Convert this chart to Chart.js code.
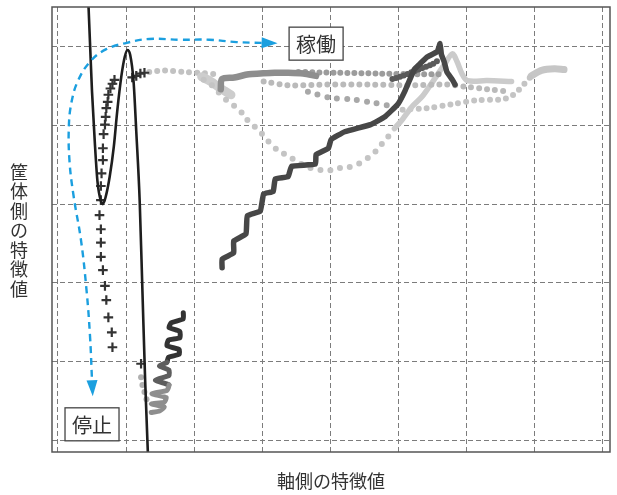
<!DOCTYPE html>
<html>
<head>
<meta charset="utf-8">
<script src="https://cdn.jsdelivr.net/npm/chart.js@4/dist/chart.umd.min.js"></script>
<style>
  html, body { margin: 0; padding: 0; background: #fff; }
  canvas { display: block; }
</style>
</head>
<body>
<canvas id="c" width="617" height="495"></canvas>
<script>
// Grid positions (no tick labels are printed)
const xGrid = [0, 1, 2, 3, 4, 5, 6, 7, 8];
const yGrid = [0, 1, 2, 3, 4, 5];
const xTitle = '軸側の特徴値';
const yTitle = '筐体側の特徴値';

// State labels and where they sit
const stateNames = ['稼働', '停止'];
const stateX = [3.79, 0.50];
const stateY = [5.04, 0.20];

// Dashed transition path (from the running end to the stopped end)
const transitionPath = [[2.99,5.05],[2.62,5.06],[2.22,5.09],[1.78,5.09],[1.34,5.10],[1.01,5.05],[0.71,4.97],[0.47,4.81],[0.29,4.56],[0.20,4.30],[0.16,3.99],[0.17,3.54],[0.23,3.10],[0.34,2.53],[0.42,1.90],[0.47,1.33],[0.50,0.76]];

// Decision boundary curve
const boundaryCurve = [[0.44,5.70],[0.47,5.06],[0.50,4.43],[0.54,3.80],[0.58,3.29],[0.63,3.04],[0.66,3.00],[0.70,3.09],[0.76,3.35],[0.82,3.73],[0.87,4.18],[0.93,4.62],[0.98,4.87],[1.02,4.96],[1.06,4.90],[1.11,4.56],[1.15,3.92],[1.20,3.04],[1.24,1.90],[1.28,0.76],[1.33,-0.38]];

// Start-up run (cross markers)
const startupRun = [[0.80,1.18],[0.79,1.37],[0.74,1.56],[0.71,1.78],[0.69,1.96],[0.66,2.16],[0.63,2.33],[0.63,2.51],[0.63,2.68],[0.61,2.86],[0.63,3.05],[0.63,3.23],[0.64,3.39],[0.66,3.56],[0.66,3.71],[0.67,3.89],[0.69,4.01],[0.70,4.11],[0.71,4.22],[0.73,4.30],[0.74,4.39],[0.77,4.47],[0.80,4.53],[0.83,4.58],[1.09,4.61],[1.15,4.63],[1.21,4.66],[1.27,4.67],[1.22,0.97]];

// Stopped run (squiggle near the bottom)
const stoppedRun = [[1.84,1.62],[1.84,1.54],[1.66,1.49],[1.63,1.43],[1.79,1.38],[1.79,1.30],[1.62,1.27],[1.60,1.20],[1.78,1.15],[1.78,1.09],[1.62,1.05],[1.60,0.99],[1.49,0.94],[1.63,0.89],[1.63,0.82],[1.43,0.76],[1.63,0.70],[1.60,0.63],[1.38,0.59],[1.59,0.54],[1.56,0.48],[1.37,0.46],[1.56,0.42],[1.49,0.37],[1.37,0.35]];
const stoppedDots = [[1.22,0.80],[1.24,0.70],[1.27,0.61],[1.30,0.52]];

// Ramp-up run (staircase)
const rampRun = [[2.41,2.19],[2.41,2.30],[2.58,2.38],[2.58,2.53],[2.76,2.62],[2.78,2.85],[2.97,2.91],[3.02,3.13],[3.16,3.16],[3.19,3.32],[3.38,3.35],[3.43,3.48],[3.78,3.51],[3.79,3.63],[3.97,3.71],[4.01,3.82],[4.21,3.92],[4.59,4.01],[4.80,4.11],[4.99,4.27],[5.09,4.43],[5.23,4.71],[5.31,4.78],[5.42,4.87],[5.57,4.94],[5.61,5.04],[5.63,4.90],[5.67,4.81],[5.71,4.68],[5.79,4.58],[5.83,4.52]];
const rampBranch = [[4.91,4.59],[5.06,4.63],[5.20,4.68],[5.35,4.73],[5.50,4.78],[5.60,4.84]];

// Steady running runs
const steadyBand = [[2.39,4.46],[2.41,4.59],[2.59,4.61],[2.80,4.65],[2.97,4.66],[3.18,4.67],[3.38,4.67],[3.60,4.66],[3.79,4.63]];
const steadyTop = [[3.53,4.68],[4.11,4.67],[4.69,4.66],[5.28,4.65],[5.64,4.65]];
const steadyMid = [[3.02,4.56],[3.38,4.51],[3.97,4.52],[4.55,4.52],[5.13,4.51],[5.71,4.52],[6.01,4.49],[6.30,4.46],[6.63,4.43]];
const steadyLow = [[3.67,4.43],[4.01,4.35],[4.33,4.33],[4.62,4.29],[4.88,4.25]];
const drift = [[5.06,4.20],[5.42,4.22],[5.79,4.27],[6.15,4.32],[6.49,4.33],[6.63,4.36],[6.73,4.42],[6.85,4.53],[6.95,4.63]];
const driftEnd = [[6.95,4.63],[7.10,4.70],[7.29,4.72],[7.43,4.71]];
const settleTop = [[1.34,4.68],[1.56,4.70],[1.85,4.68],[2.07,4.67],[2.33,4.65]];
const settleLoop = [[2.14,4.58],[2.29,4.49],[2.41,4.37],[2.54,4.28],[2.68,4.18],[2.80,4.05],[2.92,3.96],[3.03,3.86],[3.16,3.73],[3.34,3.63],[3.48,3.56],[3.64,3.48],[3.80,3.44],[3.98,3.43],[4.14,3.46],[4.33,3.48],[4.50,3.56],[4.64,3.65],[4.75,3.76],[4.85,3.86],[4.94,3.96]];
const settleRise = [[4.94,3.96],[5.06,4.08],[5.20,4.24],[5.35,4.37],[5.52,4.58],[5.67,4.77],[5.79,4.91],[5.86,4.81],[5.93,4.66],[6.01,4.57],[6.30,4.57],[6.66,4.56]];
const settleWedge = [[2.11,4.62],[2.24,4.56],[2.39,4.47],[2.54,4.39]];

const pts = a => a.map(([x, y]) => ({ x, y }));

function dotted(data, color, width, gap, tension) {
  return {
    data: pts(data), borderColor: color, borderWidth: width,
    borderDash: [0, gap], borderCapStyle: 'round', pointRadius: 0,
    tension: tension, fill: false
  };
}
function solid(data, color, width, tension) {
  return {
    data: pts(data), borderColor: color, borderWidth: width,
    borderCapStyle: 'round', borderJoinStyle: 'round', pointRadius: 0,
    tension: tension, fill: false
  };
}

const datasets = [
  Object.assign(solid(transitionPath, '#1b9fdf', 2.4, 0.4), { borderDash: [7, 5], borderCapStyle: 'butt' }),
  Object.assign(solid(boundaryCurve, '#1e1e1e', 2.6, 0), { cubicInterpolationMode: 'monotone' }),
  { data: pts(startupRun), showLine: false, pointStyle: 'cross', pointRadius: 4.8,
    pointBorderWidth: 2.2, pointBorderColor: '#333', pointBackgroundColor: '#333' },
  Object.assign(solid(stoppedRun, '#333', 5, 0.12), {
    segment: { borderColor: c => { const y = c.p0.parsed.y; return y > 1.0 ? '#333' : (y > 0.72 ? '#5e5e5e' : '#8e8e8e'); } }
  }),
  { data: pts(stoppedDots), showLine: false, pointRadius: 3, pointBorderWidth: 0, pointBackgroundColor: '#b0b0b0' },
  Object.assign(solid(rampRun, '#474747', 5.5, 0.1), { borderJoinStyle: 'round' }),
  dotted(rampBranch, '#5a5a5a', 6, 4, 0.2),
  solid(steadyBand, '#8e8e8e', 6.5, 0.3),
  dotted(steadyTop, '#9c9c9c', 6, 7, 0.3),
  dotted(steadyLow, '#a8a8a8', 6, 10, 0.3),
  dotted(steadyMid, '#bababa', 6, 8, 0.3),
  dotted(settleLoop, '#c4c4c4', 6, 10, 0.4),
  solid(settleRise, '#cbcbcb', 5.5, 0.3),
  solid(settleWedge, '#cdcdcd', 9, 0.3),
  dotted(drift, '#c4c4c4', 6, 8, 0.3),
  solid(driftEnd, '#c6c6c6', 7, 0.3),
  dotted(settleTop, '#c2c2c2', 6, 8, 0.3)
];

// Titles, frame, arrowheads and state boxes
const decor = {
  id: 'decor',
  afterDatasetsDraw(chart) {
    const { ctx, chartArea: a, scales: { x, y } } = chart;
    ctx.save();
    // frame
    ctx.strokeStyle = '#555';
    ctx.lineWidth = 1.5;
    ctx.setLineDash([]);
    ctx.strokeRect(a.left, a.top, a.right - a.left, a.bottom - a.top);

    // arrowheads on both ends of the dashed path
    const pm = chart.getDatasetMeta(0).data;
    const head = (p, q) => {
      const dx = p.x - q.x, dy = p.y - q.y, L = Math.hypot(dx, dy) || 1;
      const ux = dx / L, uy = dy / L, len = 16, hw = 5.5;
      ctx.beginPath();
      ctx.moveTo(p.x + ux * len, p.y + uy * len);
      ctx.lineTo(p.x - uy * hw, p.y + ux * hw);
      ctx.lineTo(p.x + uy * hw, p.y - ux * hw);
      ctx.closePath();
      ctx.fillStyle = '#1b9fdf';
      ctx.fill();
    };
    head(pm[0], pm[1]);
    head(pm[pm.length - 1], pm[pm.length - 2]);

    // state boxes
    ctx.font = '20px "Noto Sans CJK JP", "Noto Sans CJK SC", sans-serif';
    ctx.textAlign = 'center';
    ctx.textBaseline = 'middle';
    stateNames.forEach((t, i) => {
      const cx = x.getPixelForValue(stateX[i]);
      const cy = y.getPixelForValue(stateY[i]);
      const w = ctx.measureText(t).width + 14, h = 33;
      ctx.fillStyle = '#fff';
      ctx.fillRect(cx - w / 2, cy - h / 2, w, h);
      ctx.strokeStyle = '#444';
      ctx.lineWidth = 1.3;
      ctx.strokeRect(cx - w / 2, cy - h / 2, w, h);
      ctx.fillStyle = '#333';
      ctx.fillText(t, cx, cy + 1);
    });

    // axis titles
    ctx.font = '18px "Noto Sans CJK JP", "Noto Sans CJK SC", sans-serif';
    ctx.fillStyle = '#333';
    ctx.fillText(xTitle, (a.left + a.right) / 2, a.bottom + 29);
    const chars = Array.from(yTitle);
    const pitch = 19.5, mid = (a.top + a.bottom) / 2 + 1;
    chars.forEach((ch, i) => {
      ctx.fillText(ch, a.left - 33, mid + (i - (chars.length - 1) / 2) * pitch);
    });
    ctx.restore();
  }
};

const gridScale = (min, max, values, horizontal) => ({
  type: 'linear', min, max,
  afterBuildTicks: s => { s.ticks = values.map(v => ({ value: v })); },
  afterFit: s => { if (horizontal) s.height = 0; else s.width = 0; },
  ticks: { display: false },
  grid: { color: '#7c7c7c', lineWidth: 1, drawTicks: false },
  border: { display: false, dash: [5, 3] }
});

new Chart(document.getElementById('c'), {
  type: 'line',
  data: { datasets },
  options: {
    responsive: false,
    animation: false,
    layout: { padding: { left: 52, top: 5, right: 3, bottom: 43 } },
    plugins: { legend: { display: false }, tooltip: { enabled: false } },
    scales: {
      x: gridScale(-0.0875, 8.105, xGrid, true),
      y: gridScale(-0.152, 5.506, yGrid, false)
    }
  },
  plugins: [decor]
});
</script>
</body>
</html>
